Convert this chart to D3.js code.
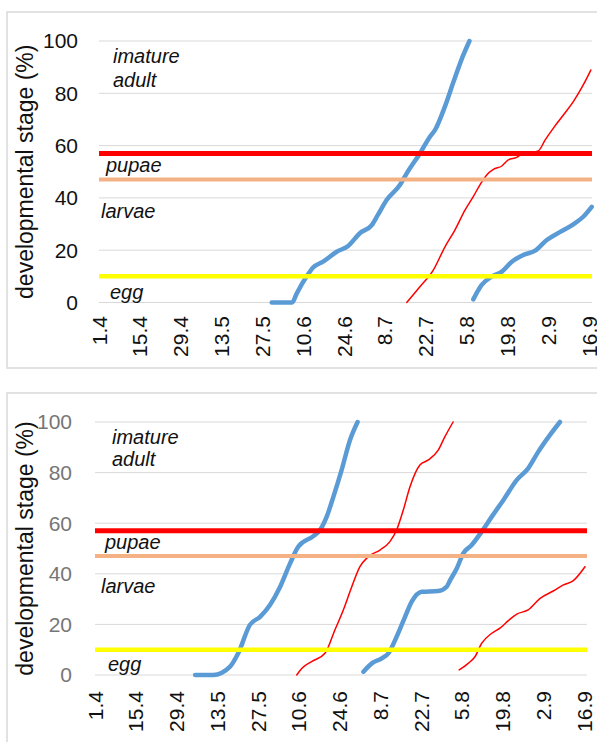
<!DOCTYPE html>
<html>
<head>
<meta charset="utf-8">
<script src="https://cdn.jsdelivr.net/npm/d3@7"></script>
<style>
  html, body { margin: 0; padding: 0; background: #fff; }
  svg { display: block; font-family: "Liberation Sans", Arial, sans-serif; }
</style>
</head>
<body>
<svg id="chart" width="597" height="742"></svg>
<script>
// x = days counted from 1 April, labels every 14 days (day.month)
const dateLabels = ['1.4', '15.4', '29.4', '13.5', '27.5', '10.6', '24.6', '8.7', '22.7', '5.8', '19.8', '2.9', '16.9'];
const tickDays = [0, 14, 28, 42, 56, 70, 84, 98, 112, 126, 140, 154, 168];
const yTicks = [0, 20, 40, 60, 80, 100];

// stage thresholds (%): adult, pupae, larvae
const stageBounds = [57, 47, 10];
const stageNames = ['imature', 'adult', 'pupae', 'larvae', 'egg'];
const stageNameLevels = [91.5, 82.5, 50, 32.5, 1.5];

// upper chart
const topBlue1 = [[59.2, 0], [66.2, 0], [67.8, 3.5], [71.2, 10], [73.4, 13.4], [76.8, 15.6], [81.5, 19.4],
    [85.4, 21.6], [89.5, 26.6], [93.5, 29.6], [95.6, 33.5], [98.6, 39.2], [103.2, 45], [105.5, 49.4],
    [110, 57], [113.5, 63.5], [115.2, 66], [118.6, 75], [121.4, 84], [124.3, 93], [127, 100]];
const topBlue2 = [[128.3, 1.2], [131.2, 6.7], [134.6, 9.9], [138.1, 11.8], [141.5, 15.6], [145.5, 18.2],
    [149.5, 19.8], [153.5, 23.9], [158.1, 27], [162.6, 29.9], [166, 32.8], [168.9, 36.6]];
const topRed = [[105.5, 0], [110, 6], [114.6, 12.4], [118.6, 21.3], [122, 27.7], [125.5, 35.4], [128.3, 40.5],
    [130.6, 45], [132.9, 48.8], [135.2, 50.9], [138.1, 52.2], [140.3, 54.5], [143.2, 55.5], [144.9, 56.8],
    [150.6, 58], [152.9, 62.1], [155.7, 66.6], [159.2, 71.7], [162.6, 76.8], [166, 83.2], [168.6, 88.9]];

// lower chart
const botBlue1 = [[34.4, 0], [40.6, 0], [46.4, 3.3], [49.2, 8.6], [53.2, 19.8], [56.7, 23], [60.1, 27.7],
    [63.6, 34.9], [67, 44.1], [69.8, 50.7], [75, 54.9], [77.3, 57.3], [79.6, 62.6], [81.9, 70.5],
    [84.7, 81], [87.6, 92.9], [90.2, 100]];
const botRed1 = [[69.3, 0], [71, 2.6], [74.4, 5.3], [79, 8.6], [82.4, 17.8], [85.3, 25.7], [88.2, 34.9],
    [91, 42.8], [93.9, 46.8], [97.9, 49.4], [101.3, 52.7], [103.6, 57.3], [105.9, 65.2], [108.2, 74.4],
    [111.6, 83], [114.5, 85], [117.9, 88.9], [120.2, 94.2], [123, 100]];
const botBlue2 = [[92.2, 1.3], [95.1, 4.6], [98.5, 6.6], [100.8, 8.6], [103.6, 15.1], [106.5, 23], [108.8, 29],
    [112.2, 32.9], [117.9, 33.2], [120.8, 34.9], [122, 37.5], [124.3, 42.2], [126.5, 48.1], [129.4, 51.4],
    [132.8, 56.6], [136.3, 62.6], [140.3, 69.2], [144.9, 77.1], [148.8, 81.7], [152.3, 88.3],
    [156.3, 94.9], [159.7, 100]];
const botRed2 = [[125.1, 2], [128.2, 4.6], [130.5, 7.2], [132.8, 12.5], [136.3, 16.5], [139.1, 18.5],
    [142, 21.5], [144.9, 24.1], [148.8, 25.7], [152.9, 30.3], [157.4, 33.2], [160.9, 35.6],
    [164.3, 37.3], [168.3, 42.8]];

const BLUE = '#5B9BD5';
const RED = '#FF0000';
const BOUND_STYLE = [
    { color: '#FF0000', width: 5 },
    { color: '#F4B183', width: 4 },
    { color: '#FFFF00', width: 4.5 },
];

const svg = d3.select('#chart');

function drawPanel(cfg) {
    const x = d3.scaleLinear().domain([0, 169]).range([cfg.left, cfg.right]);
    const y = d3.scaleLinear().domain([0, 100]).range([cfg.bottom, cfg.top]);

    svg.append('rect')
        .attr('x', 7).attr('y', cfg.boxTop)
        .attr('width', 620).attr('height', cfg.boxHeight)
        .attr('fill', '#fff')
        .attr('stroke', '#d9d9d9')
        .attr('stroke-width', 1.5);

    const g = svg.append('g');

    // gridlines
    g.selectAll('.grid')
        .data(yTicks)
        .join('line')
        .attr('x1', x(0)).attr('x2', x(169))
        .attr('y1', function (d) { return y(d); })
        .attr('y2', function (d) { return y(d); })
        .attr('stroke', '#d9d9d9')
        .attr('stroke-width', 1);

    // y tick labels
    g.selectAll('.ytick')
        .data(yTicks)
        .join('text')
        .attr('x', cfg.yLabelX)
        .attr('y', function (d) { return y(d); })
        .attr('dy', '0.35em')
        .attr('text-anchor', 'end')
        .attr('font-size', 21)
        .attr('fill', cfg.yLabelColor)
        .text(function (d) { return d; });

    // x tick labels, rotated
    g.selectAll('.xtick')
        .data(tickDays)
        .join('text')
        .attr('transform', function (d) { return 'translate(' + x(d) + ',' + cfg.xLabelY + ') rotate(-90)'; })
        .attr('dy', '0.36em')
        .attr('text-anchor', 'end')
        .attr('font-size', 21)
        .attr('fill', '#111')
        .text(function (d, i) { return dateLabels[i]; });

    // axis title
    g.append('text')
        .attr('transform', 'translate(33,' + (cfg.top + cfg.bottom) / 2 + ') rotate(-90)')
        .attr('text-anchor', 'middle')
        .attr('font-size', 23)
        .attr('fill', '#111')
        .text('developmental stage (%)');

    const line = d3.line()
        .x(function (d) { return x(d[0]); })
        .y(function (d) { return y(d[1]); })
        .curve(d3.curveMonotoneX);

    cfg.series.forEach(function (s) {
        g.append('path')
            .datum(s.data)
            .attr('d', line)
            .attr('fill', 'none')
            .attr('stroke', s.color)
            .attr('stroke-width', s.width)
            .attr('stroke-linecap', 'round')
            .attr('stroke-linejoin', 'round');
    });

    // stage boundaries drawn over the curves
    stageBounds.forEach(function (v, i) {
        g.append('line')
            .attr('x1', x(0)).attr('x2', x(169))
            .attr('y1', y(v)).attr('y2', y(v))
            .attr('stroke', BOUND_STYLE[i].color)
            .attr('stroke-width', BOUND_STYLE[i].width);
    });

    stageNames.forEach(function (name, i) {
        g.append('text')
            .attr('x', cfg.nameX[i])
            .attr('y', y(stageNameLevels[i]))
            .attr('font-size', 20)
            .attr('font-style', 'italic')
            .attr('fill', '#111')
            .text(name);
    });
}

drawPanel({
    boxTop: 12, boxHeight: 356,
    left: 99, right: 592, top: 41, bottom: 302.5,
    yLabelX: 78, yLabelColor: '#111', xLabelY: 316,
    nameX: [113, 113, 106, 101, 110],
    series: [
        { data: topBlue1, color: BLUE, width: 4.5 },
        { data: topBlue2, color: BLUE, width: 4.5 },
        { data: topRed, color: RED, width: 1.5 },
    ],
});

drawPanel({
    boxTop: 393, boxHeight: 380,
    left: 95, right: 587, top: 422, bottom: 675,
    yLabelX: 72, yLabelColor: '#767676', xLabelY: 691,
    nameX: [112, 112, 105, 101, 108],
    series: [
        { data: botBlue1, color: BLUE, width: 4.5 },
        { data: botBlue2, color: BLUE, width: 4.5 },
        { data: botRed1, color: RED, width: 1.5 },
        { data: botRed2, color: RED, width: 1.5 },
    ],
});
</script>
</body>
</html>
